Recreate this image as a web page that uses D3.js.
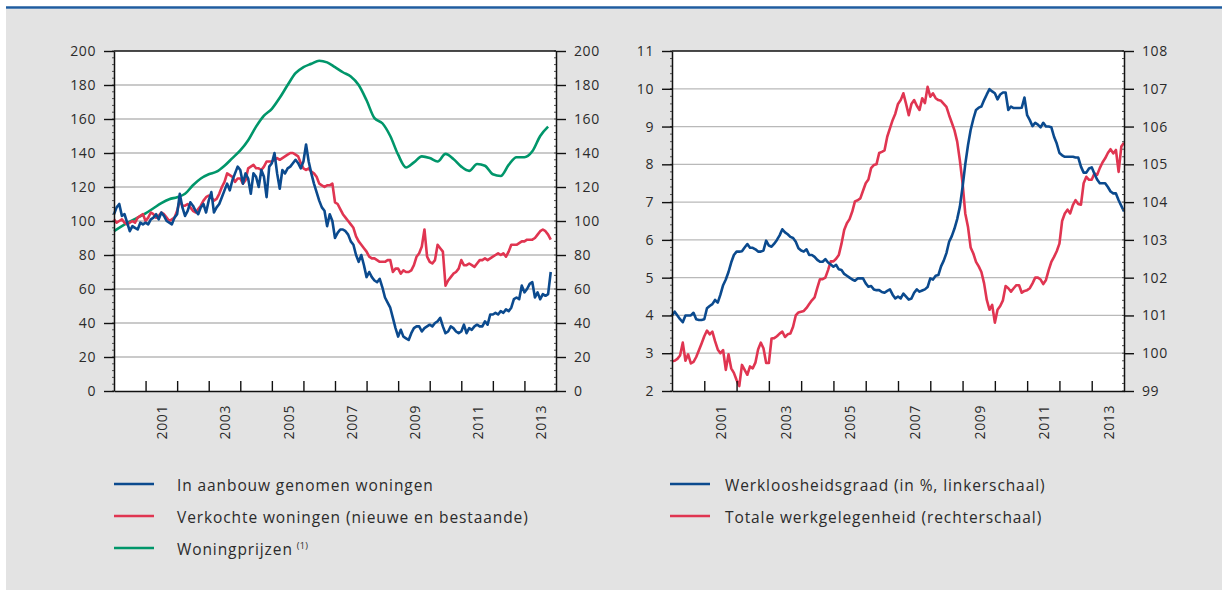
<!DOCTYPE html>
<html>
<head>
<meta charset="utf-8">
<script src="https://cdn.jsdelivr.net/npm/d3@7"></script>
<style>
body { margin: 0; background: #fff; }
svg text { font-family: "Open Sans", sans-serif; fill: #2b2b2b; }
</style>
</head>
<body>
<svg id="chart" width="1222" height="590"></svg>
<script>
"use strict";

let start_year = 2000;
let year_ticks = d3.range(2001, 2014);
let year_labels = [2001, 2003, 2005, 2007, 2009, 2011, 2013];

let housing_ticks = [0, 20, 40, 60, 80, 100, 120, 140, 160, 180, 200];
let unemp_ticks = [2, 3, 4, 5, 6, 7, 8, 9, 10, 11];
let employ_ticks = [99, 100, 101, 102, 103, 104, 105, 106, 107, 108];

// monthly, from jan 2000
let housing_starts = [
    104,108,110,103,104,99,94,97,96,95,99,98,
    99,98,101,102,104,101,105,103,100,99,98,102,
    104,116,108,103,106,111,109,106,104,108,110,105,
    112,117,105,108,110,114,118,122,118,124,128,132,
    130,122,128,125,116,128,126,120,130,126,114,132,
    134,140,128,119,130,128,131,132,134,136,134,131,
    135,145,135,128,122,117,112,108,106,97,104,100,
    90,93,95,95,94,92,88,86,80,76,80,74,
    67,70,67,65,64,66,61,55,52,49,43,37,
    32,36,32,31,30,34,37,38,38,35,37,38,
    39,38,40,41,43,38,34,35,38,37,35,34,
    35,39,34,37,36,38,39,38,38,41,39,45,
    45,46,45,47,46,48,47,49,54,55,54,62,
    58,60,63,64,55,58,54,57,56,57,70];

let houses_sold = [
    101,99,100,101,99,98,99,100,99,102,103,104,
    100,102,105,104,102,103,105,104,102,100,101,102,
    106,112,109,109,110,108,106,105,107,109,112,114,
    115,114,112,113,116,120,123,128,127,126,123,125,
    125,122,124,131,132,133,131,131,130,132,135,135,
    135,136,137,136,137,138,139,140,140,139,138,134,
    131,130,131,129,128,126,122,121,120,121,121,122,
    111,110,107,104,102,100,98,96,91,88,86,84,
    82,79,78,78,77,76,76,76,77,77,70,72,
    72,69,71,70,70,71,74,79,81,85,95,79,
    76,75,77,86,84,82,62,65,67,69,70,72,
    77,74,74,75,74,73,75,77,77,78,77,78,
    79,80,81,80,81,79,82,86,86,86,87,88,
    88,89,89,89,90,92,94,95,94,92,89];

// quarterly, from 2000q1
let house_prices = [
    94,97,99.6,102, 104.5,107.5,110.5,112.8, 114,116,121,125,
    127.5,129,132.5,137, 141.5,147.5,155.5,162, 166,172.5,180,187,
    190.5,192.5,194.3,193.3, 190.5,187.5,185,180, 171,160.5,157.5,150,
    139,131.5,134.5,138, 137,135,139.5,136.5, 132,129.5,133.5,132.5,
    127.5,126.5,133,137.5, 137.5,141,150,155.5];

// monthly, from jan 2000
let unemployment = [
    4.0,4.1,4.0,3.9,3.82,4.0,4.0,4.0,4.07,3.9,3.88,3.88,
    3.9,4.19,4.25,4.3,4.41,4.34,4.55,4.8,4.95,5.15,5.4,5.6,
    5.69,5.69,5.7,5.8,5.89,5.79,5.79,5.75,5.69,5.69,5.72,5.98,
    5.85,5.82,5.9,6.0,6.12,6.28,6.2,6.15,6.08,6.05,5.95,5.78,
    5.72,5.69,5.75,5.6,5.6,5.55,5.47,5.42,5.42,5.49,5.4,5.35,
    5.29,5.34,5.22,5.2,5.1,5.05,5.0,4.95,4.92,4.98,4.98,4.98,
    4.85,4.76,4.78,4.69,4.67,4.67,4.62,4.6,4.65,4.69,4.55,4.45,
    4.5,4.45,4.58,4.5,4.42,4.45,4.6,4.69,4.63,4.66,4.69,4.75,
    4.98,4.95,5.05,5.07,5.3,5.45,5.65,5.95,6.1,6.3,6.55,6.88,
    7.4,8.0,8.5,8.91,9.2,9.44,9.5,9.53,9.7,9.85,9.99,9.93,
    9.88,9.72,9.85,9.9,9.9,9.44,9.53,9.49,9.49,9.49,9.5,9.77,
    9.3,9.17,9.01,9.1,9.05,8.98,9.1,9.0,9.0,8.98,8.73,8.55,
    8.3,8.24,8.2,8.2,8.2,8.2,8.18,8.18,7.94,7.78,7.78,7.89,
    7.92,7.75,7.6,7.5,7.5,7.5,7.4,7.28,7.23,7.23,7.05,6.9,6.75];

let employment = [
    99.79,99.8,99.85,99.94,100.28,99.8,99.97,99.73,99.77,99.9,100.08,100.26,
    100.45,100.6,100.5,100.57,100.32,100.1,100.0,100.08,99.56,99.97,99.6,99.48,
    99.29,99.13,99.69,99.56,99.43,99.65,99.6,99.75,100.1,100.28,100.13,99.74,
    99.74,100.39,100.4,100.45,100.52,100.57,100.43,100.5,100.52,100.7,101.0,101.08,
    101.1,101.12,101.2,101.3,101.4,101.48,101.73,101.96,101.96,102.0,102.2,102.43,
    102.43,102.5,102.6,102.9,103.26,103.44,103.55,103.75,104.02,104.05,104.1,104.3,
    104.5,104.6,104.9,104.98,105.0,105.3,105.33,105.37,105.73,105.95,106.17,106.34,
    106.6,106.7,106.88,106.6,106.3,106.6,106.7,106.55,106.44,106.75,106.62,107.05,
    106.79,106.88,106.75,106.7,106.68,106.6,106.52,106.3,106.1,105.9,105.6,105.1,
    104.5,103.7,103.35,102.8,102.64,102.42,102.3,102.15,101.85,101.41,101.15,101.28,
    100.81,101.15,101.25,101.4,101.78,101.72,101.63,101.72,101.8,101.8,101.6,101.65,
    101.67,101.72,101.85,102.0,102.0,101.95,101.83,101.94,102.2,102.42,102.55,102.7,
    102.9,103.5,103.7,103.8,103.7,103.92,104.05,103.95,103.93,104.5,104.67,104.59,
    104.59,104.76,104.72,104.9,105.05,105.16,105.3,105.4,105.29,105.38,104.8,105.47,105.57];

let left_legend = ["In aanbouw genomen woningen", "Verkochte woningen (nieuwe en bestaande)", "Woningprijzen"];
let right_legend = ["Werkloosheidsgraad (in %, linkerschaal)", "Totale werkgelegenheid (rechterschaal)"];

let blue = "#0b4a8e";
let red = "#e03551";
let green = "#00966a";

let svg = d3.select("#chart");

// frame of the page
svg.append("rect").attr("x", 6).attr("y", 9).attr("width", 1216).attr("height", 581).attr("fill", "#e3e3e3");
svg.append("line").attr("x1", 6).attr("x2", 1222).attr("y1", 7.5).attr("y2", 7.5)
    .attr("stroke", "#1f5c9f").attr("stroke-width", 2.5);

function monthly(values) {
    return values.map((v, i) => [start_year + i / 12, v]);
}
function quarterly(values) {
    return values.map((v, i) => [start_year + i / 4, v]);
}

function draw_panel(x, y_left, y_right, left_ticks, right_ticks, minor_step_l, minor_step_r, series) {
    let g = svg.append("g");
    let [x0, x1] = x.range();
    let [yb, yt] = y_left.range();

    g.append("rect").attr("x", x0).attr("y", yt).attr("width", x1 - x0).attr("height", yb - yt).attr("fill", "#fff");

    // grid
    g.selectAll(".grid").data(left_ticks.slice(1, -1)).join("line")
        .attr("x1", x0).attr("x2", x1)
        .attr("y1", d => y_left(d)).attr("y2", d => y_left(d))
        .attr("stroke", "#b9b9b9").attr("stroke-width", 1.3);

    for (let s of series) {
        let line = d3.line().x(d => x(d[0])).y(d => s.scale(d[1]));
        if (s.smooth) line.curve(d3.curveMonotoneX);
        g.append("path").datum(s.data).attr("d", line)
            .attr("fill", "none").attr("stroke", s.color).attr("stroke-width", 2.6)
            .attr("stroke-linejoin", "round");
    }

    // minor ticks, left of both vertical axes
    let dom_l = y_left.domain(), dom_r = y_right.domain();
    let minors_l = d3.range(dom_l[0], dom_l[1] + 1e-9, minor_step_l);
    let minors_r = d3.range(dom_r[0], dom_r[1] + 1e-9, minor_step_r);
    g.selectAll(".minl").data(minors_l).join("line")
        .attr("x1", x0 - 2).attr("x2", x0).attr("y1", d => y_left(d)).attr("y2", d => y_left(d))
        .attr("stroke", "#555").attr("stroke-width", 1);
    g.selectAll(".minr").data(minors_r).join("line")
        .attr("x1", x1 - 2).attr("x2", x1).attr("y1", d => y_right(d)).attr("y2", d => y_right(d))
        .attr("stroke", "#555").attr("stroke-width", 1);

    let ax_l = g.append("g").attr("transform", `translate(${x0},0)`)
        .call(d3.axisLeft(y_left).tickValues(left_ticks).tickSize(10).tickPadding(8).tickSizeOuter(0));
    let ax_r = g.append("g").attr("transform", `translate(${x1},0)`)
        .call(d3.axisRight(y_right).tickValues(right_ticks).tickSize(10).tickPadding(8).tickSizeOuter(0));
    let ax_b = g.append("g").attr("transform", `translate(0,${yb})`)
        .call(d3.axisBottom(x).tickValues(year_ticks).tickSize(-10).tickFormat("").tickSizeOuter(0));
    for (let ax of [ax_l, ax_r, ax_b]) {
        ax.select(".domain").attr("stroke", "#111").attr("stroke-width", 1.5);
        ax.selectAll(".tick line").attr("stroke", "#111").attr("stroke-width", 1.4);
        ax.selectAll(".tick text").attr("font-size", 14).attr("letter-spacing", 0.6)
            .style("font-family", "'Open Sans', sans-serif").attr("fill", "#2b2b2b");
    }
    // top frame
    g.append("line").attr("x1", x0).attr("x2", x1).attr("y1", yt).attr("y2", yt)
        .attr("stroke", "#111").attr("stroke-width", 1.5);

    g.selectAll(".yr").data(year_labels).join("text")
        .attr("transform", d => `translate(${x(d + 0.5) + 1},${yb + 14}) rotate(-90)`)
        .attr("text-anchor", "end").attr("dy", "0.35em")
        .attr("font-size", 14).attr("letter-spacing", 0.6)
        .text(d => d);
}

// left panel
let x_left = d3.scaleLinear().domain([2000, 2014]).range([114, 556]);
let y_house = d3.scaleLinear().domain([0, 200]).range([391, 51]);
draw_panel(x_left, y_house, y_house, housing_ticks, housing_ticks, 4, 4, [
    { data: quarterly(house_prices), color: green, scale: y_house, smooth: true },
    { data: monthly(houses_sold), color: red, scale: y_house },
    { data: monthly(housing_starts), color: blue, scale: y_house }
]);

// right panel
let x_right = d3.scaleLinear().domain([2000, 2014]).range([672, 1124]);
let y_unemp = d3.scaleLinear().domain([2, 11]).range([391, 51]);
let y_employ = d3.scaleLinear().domain([99, 108]).range([391, 51]);
draw_panel(x_right, y_unemp, y_employ, unemp_ticks, employ_ticks, 0.2, 0.2, [
    { data: monthly(employment), color: red, scale: y_employ },
    { data: monthly(unemployment), color: blue, scale: y_unemp }
]);

// legends
function draw_legend(items, colors, lx, tx, y0) {
    let g = svg.append("g");
    items.forEach((name, i) => {
        let y = y0 + i * 32;
        g.append("line").attr("x1", lx).attr("x2", lx + 40).attr("y1", y).attr("y2", y)
            .attr("stroke", colors[i]).attr("stroke-width", 2.6);
        let t = g.append("text").attr("x", tx).attr("y", y + 6.5)
            .attr("font-size", 15.5).attr("letter-spacing", 0.9).text(name);
        if (name == "Woningprijzen") {
            t.append("tspan").attr("dx", 4).attr("dy", -6).attr("font-size", 9).attr("letter-spacing", 0.3).text("(1)");
        }
    });
}
draw_legend(left_legend, [blue, red, green], 114, 177, 484);
draw_legend(right_legend, [blue, red], 670, 725, 484);
</script>
</body>
</html>
